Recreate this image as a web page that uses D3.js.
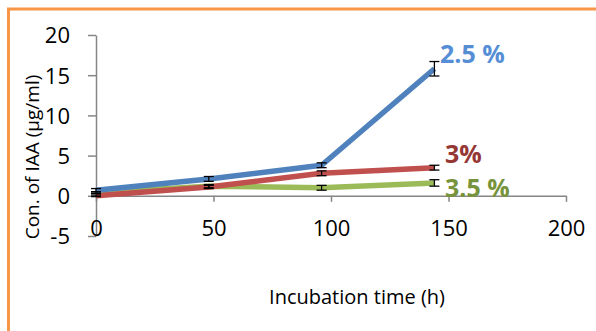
<!DOCTYPE html>
<html>
<head>
<meta charset="utf-8">
<script src="https://cdn.jsdelivr.net/npm/d3@7"></script>
<style>
  body { margin: 0; background: #fff; }
  svg { display: block; }
</style>
</head>
<body>
<svg></svg>
<script>
const width = 596;
const height = 331;

// Incubation time (h)
const hours = [0, 48, 96, 144];
const series = ["2.5 %", "3%", "3.5 %"];
const iaa25 = [0.7, 2.1, 3.8, 15.8];
const iaa3 = [0.0, 1.1, 2.8, 3.5];
const iaa35 = [0.4, 1.2, 1.0, 1.6];
const err25 = [0.2, 0.3, 0.3, 0.9];
const err3 = [0.1, 0.2, 0.3, 0.3];
const err35 = [0.1, 0.2, 0.3, 0.4];
const xTicks = [0, 50, 100, 150, 200];
const yTicks = [-5, 0, 5, 10, 15, 20];

const lineColors = ["#4F81BD", "#C0504D", "#9BBB59"];
const labelColors = ["#558ED5", "#953735", "#77933C"];

const data = [iaa25, iaa3, iaa35].map((vals, k) => ({
  name: series[k],
  color: lineColors[k],
  labelColor: labelColors[k],
  points: vals.map((v, i) => ({x: hours[i], y: v, e: [err25, err3, err35][k][i]}))
}));

const svg = d3.select("svg")
    .attr("width", width)
    .attr("height", height)
    .attr("viewBox", [0, 0, width, height]);

// orange frame, runs off the right and bottom edges
svg.append("rect")
    .attr("x", 8.5)
    .attr("y", 9)
    .attr("width", width + 20)
    .attr("height", height + 20)
    .attr("fill", "none")
    .attr("stroke", "#F79646")
    .attr("stroke-width", 3);

const x = d3.scaleLinear([0, 200], [96, 566]);
const y = d3.scaleLinear([-5, 20], [236, 35]);

const font = "'Open Sans', sans-serif";
const axisColor = "#868686";

// y axis
const yAxis = svg.append("g")
    .attr("transform", `translate(${x(0)},0)`)
    .call(d3.axisLeft(y).tickValues(yTicks).tickFormat(d => String(d))
      .tickSize(8).tickPadding(18).tickSizeOuter(0));
yAxis.select(".domain").attr("stroke", axisColor).attr("stroke-width", 1.5);
yAxis.selectAll(".tick line").attr("stroke", axisColor).attr("stroke-width", 1.5);
yAxis.selectAll(".tick text")
    .attr("font-family", font)
    .attr("font-size", 22)
    .attr("fill", "#000")
    .attr("dy", "0.36em");

// x axis on the zero line
const xAxis = svg.append("g")
    .attr("transform", `translate(0,${y(0)})`)
    .call(d3.axisBottom(x).tickValues(xTicks).tickSize(6).tickPadding(19).tickSizeOuter(0));
xAxis.select(".domain").attr("stroke", axisColor).attr("stroke-width", 1.5);
xAxis.selectAll(".tick line").attr("stroke", axisColor).attr("stroke-width", 1.5);
xAxis.selectAll(".tick text")
    .attr("font-family", font)
    .attr("font-size", 22)
    .attr("fill", "#000");

// axis titles
svg.append("text")
    .attr("transform", `translate(39,157) rotate(-90)`)
    .attr("text-anchor", "middle")
    .attr("font-family", font)
    .attr("font-size", 19)
    .attr("fill", "#000")
    .text("Con. of IAA (µg/ml)");

svg.append("text")
    .attr("x", 357)
    .attr("y", 304)
    .attr("text-anchor", "middle")
    .attr("font-family", font)
    .attr("font-size", 20)
    .attr("fill", "#000")
    .text("Incubation time (h)");

const line = d3.line()
    .x(d => x(d.x))
    .y(d => y(d.y));

const g = svg.append("g");

// lines drawn back to front: green, red, blue on top
[...data].reverse().forEach(s => {
  g.append("path")
      .attr("d", line(s.points))
      .attr("fill", "none")
      .attr("stroke", s.color)
      .attr("stroke-width", 5.5)
      .attr("stroke-linejoin", "round");
});

// error bars
data.forEach(s => {
  const eb = g.append("g")
      .attr("stroke", "#000")
      .attr("stroke-width", 1.3)
    .selectAll("g")
    .data(s.points)
    .join("g");
  eb.append("line")
      .attr("x1", d => x(d.x)).attr("x2", d => x(d.x))
      .attr("y1", d => y(d.y - d.e)).attr("y2", d => y(d.y + d.e));
  eb.append("line")
      .attr("x1", d => x(d.x) - 5).attr("x2", d => x(d.x) + 5)
      .attr("y1", d => y(d.y + d.e)).attr("y2", d => y(d.y + d.e));
  eb.append("line")
      .attr("x1", d => x(d.x) - 5).attr("x2", d => x(d.x) + 5)
      .attr("y1", d => y(d.y - d.e)).attr("y2", d => y(d.y - d.e));
});

// series labels at line ends
const labelPos = [[440, 63], [445, 163], [445, 197]];
data.forEach((s, k) => {
  svg.append("text")
      .attr("x", labelPos[k][0])
      .attr("y", labelPos[k][1])
      .attr("font-family", font)
      .attr("font-size", 25)
      .attr("font-weight", "bold")
      .attr("fill", s.labelColor)
      .text(s.name);
});
</script>
</body>
</html>
